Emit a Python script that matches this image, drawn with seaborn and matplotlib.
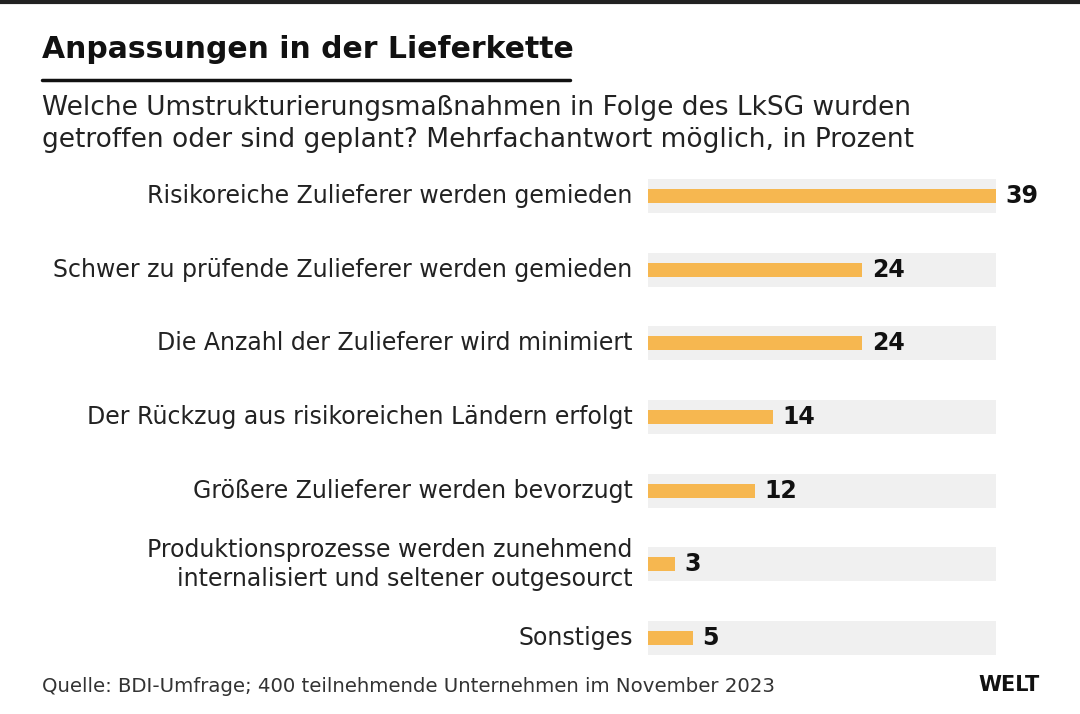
import matplotlib
matplotlib.use("Agg")
import matplotlib.pyplot as plt
import seaborn as sns
import pandas as pd

sns.set_style("white")
plt.rcParams['font.family'] = ['DejaVu Sans']

categories = [
    "Risikoreiche Zulieferer werden gemieden",
    "Schwer zu prüfende Zulieferer werden gemieden",
    "Die Anzahl der Zulieferer wird minimiert",
    "Der Rückzug aus risikoreichen Ländern erfolgt",
    "Größere Zulieferer werden bevorzugt",
    "Produktionsprozesse werden zunehmend\ninternalisiert und seltener outgesourct",
    "Sonstiges",
]
values = [39, 24, 24, 14, 12, 3, 5]
track_max = 39

df = pd.DataFrame({"cat": categories, "val": values, "track": [track_max] * len(values)})

W, H = 1080, 714
fig = plt.figure(figsize=(W / 100, H / 100), dpi=100)

ax_left, ax_right = 648, 996
ax_top, ax_bot = 179, 655
ax = fig.add_axes([ax_left / W, 1 - ax_bot / H, (ax_right - ax_left) / W, (ax_bot - ax_top) / H])

sns.barplot(data=df, x="track", y="cat", color="#F0F0F0", width=0.46, ax=ax,
            saturation=1, linewidth=0)
sns.barplot(data=df, x="val", y="cat", color="#F6B750", width=0.19, ax=ax,
            saturation=1, linewidth=0)

ax.set_xlim(0, track_max)
ax.set_ylim(6.23, -0.23)
ax.set_xlabel("")
ax.set_ylabel("")
ax.set_xticks([])
for s in ax.spines.values():
    s.set_visible(False)
ax.tick_params(axis="y", length=0, pad=11, labelsize=17, labelcolor="#222222")
for lbl in ax.get_yticklabels():
    lbl.set_horizontalalignment("right")
    lbl.set_verticalalignment("center")
    lbl.set_linespacing(1.3)

for i, v in enumerate(values):
    ax.annotate(str(v), xy=(v, i), xytext=(7, 0), textcoords="offset points",
                ha="left", va="center", fontsize=17, fontweight="bold", color="#111111")

# top rule
fig.add_artist(plt.Line2D([0, 1], [1 - 1.5 / H, 1 - 1.5 / H], color="#222222", lw=3))
fig.text(42 / W, 1 - 50 / H, "Anpassungen in der Lieferkette", fontsize=21.5, fontweight="bold",
         color="#111111", ha="left", va="center")
fig.add_artist(plt.Line2D([42 / W, 570 / W], [1 - 80 / H, 1 - 80 / H], color="#111111", lw=2.5))
fig.text(42 / W, 1 - 124 / H,
         "Welche Umstrukturierungsmaßnahmen in Folge des LkSG wurden\ngetroffen oder sind geplant? Mehrfachantwort möglich, in Prozent",
         fontsize=19, color="#222222", ha="left", va="center", linespacing=1.3)
fig.text(42 / W, 1 - 686 / H, "Quelle: BDI-Umfrage; 400 teilnehmende Unternehmen im November 2023",
         fontsize=14.2, color="#333333", ha="left", va="center")
fig.text(1040 / W, 1 - 685 / H, "WELT", fontsize=15, fontweight="black", color="#111111",
         ha="right", va="center")

fig.savefig("out.png", dpi=100, facecolor="white")
